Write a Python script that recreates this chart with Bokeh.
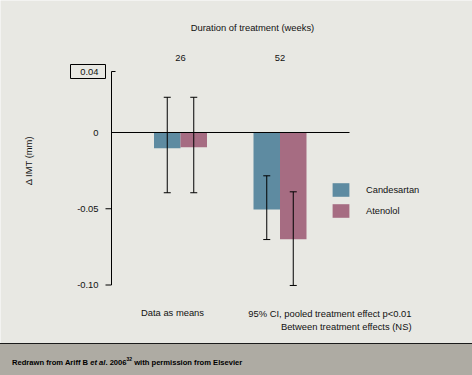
import math
from bokeh.plotting import figure
from bokeh.models import ColumnDataSource, Range1d, Whisker, TeeHead, Legend, LegendItem, Div
from bokeh.layouts import column
from bokeh.core.properties import value
from bokeh.embed import file_html
from bokeh.resources import INLINE

# ---------------- data ----------------
weeks = ["26", "52"]
group_pos = [0, 1]
series = ["Candesartan", "Atenolol"]
candesartan = [-0.0103, -0.0505]
atenolol = [-0.0096, -0.0700]
candesartan_lo = [-0.0395, -0.0702]
candesartan_hi = [0.0231, -0.0284]
atenolol_lo = [-0.0395, -0.1003]
atenolol_hi = [0.0231, -0.0389]
y_ticks = [0.04, 0, -0.05, -0.10]
y_tick_labels = ["0.04", "0", "-0.05", "-0.10"]

# ---------------- layout constants (pixels) ----------------
W, H = 472, 343           # chart area; footer below
FOOT_H = 32
AXIS_PX = 111             # y axis position
G0_PX = 180               # centre of the first group
PX_X = 99.5               # px per group unit
PX_Y = 1525.0             # px per mm
ZERO_PX = 132             # y pixel of 0

def sx(px):
    return (px - G0_PX) / PX_X

def sy(py):
    return (ZERO_PX - py) / PX_Y

BAR_W = 26.5 / PX_X
BG = "#e8e8e3"
C_CAND = "#5e8ba1"
C_ATEN = "#a66c82"
FONT = value("Liberation Sans")
FS = value("9.4px")
TXT = "#111111"

src = ColumnDataSource(dict(
    x=group_pos, weeks=weeks,
    cand=candesartan, aten=atenolol,
    cand_lo=candesartan_lo, cand_hi=candesartan_hi,
    aten_lo=atenolol_lo, aten_hi=atenolol_hi,
    cand_x=[g - BAR_W / 2 for g in group_pos],
    aten_x=[g + BAR_W / 2 for g in group_pos],
))

p = figure(width=W, height=H, output_backend="svg", toolbar_location=None,
           x_range=Range1d(sx(0), sx(W)), y_range=Range1d(sy(H), sy(0)),
           x_axis_location=None, y_axis_location=None,
           min_border_left=0, min_border_right=0,
           min_border_top=0, min_border_bottom=0)
p.background_fill_color = BG
p.border_fill_color = BG
p.outline_line_color = None
p.grid.visible = False

# bars
r_c = p.vbar(x="cand_x", top="cand", bottom=0, width=BAR_W, source=src,
             fill_color=C_CAND, line_color=None)
r_a = p.vbar(x="aten_x", top="aten", bottom=0, width=BAR_W, source=src,
             fill_color=C_ATEN, line_color=None)

# y axis: line, ticks, labels
ax_x = sx(AXIS_PX)
p.segment(x0=ax_x, y0=min(y_ticks), x1=ax_x, y1=max(y_ticks), line_color="black", line_width=1)
tick_len = {0.04: 4, 0: 0, -0.05: -6, -0.10: -6}   # + inward, - outward
tk = [t for t in y_ticks if tick_len[t] != 0]
p.segment(x0=[ax_x] * len(tk), y0=tk, x1=[sx(AXIS_PX + tick_len[t]) for t in tk], y1=tk,
          line_color="black", line_width=1)
p.text(x=sx(98), y=y_ticks, text=y_tick_labels, text_align="right",
       text_baseline="middle", text_font=FONT, text_font_size=FS, text_color=TXT)
# box around the top tick label
p.rect(x=sx(87.5), y=y_ticks[0], width=35, height=14, width_units="screen",
       height_units="screen", fill_color=None, line_color="black", line_width=1)
# y axis title
p.text(x=[sx(28)], y=[sy(160)], text=["\u0394 IMT (mm)"], angle=math.pi / 2,
       text_align="center", text_baseline="middle", text_font=FONT,
       text_font_size=FS, text_color=TXT)

# zero line
p.segment(x0=ax_x, y0=0, x1=sx(349), y1=0, line_color="black", line_width=1)

# error bars
for xcol, lo, hi in [("cand_x", "cand_lo", "cand_hi"), ("aten_x", "aten_lo", "aten_hi")]:
    w = Whisker(source=src, base=xcol, lower=lo, upper=hi, dimension="height",
                line_color="black", line_width=1,
                upper_head=TeeHead(size=7, line_color="black", line_width=1),
                lower_head=TeeHead(size=7, line_color="black", line_width=1))
    w.level = "overlay"
    p.add_layout(w)

# legend (location = bottom-left corner, from frame bottom-left)
legend = Legend(items=[LegendItem(label=series[0], renderers=[r_c]),
                       LegendItem(label=series[1], renderers=[r_a])],
                location=(330, 124), orientation="vertical",
                glyph_width=21, glyph_height=17, label_height=17, label_width=10,
                label_standoff=15, spacing=4, padding=0, margin=0,
                border_line_color=None, background_fill_alpha=0,
                label_text_font="Liberation Sans", label_text_font_size="9.3px",
                label_text_color=TXT)
p.add_layout(legend)

# texts
p.text(x=[sx(252)], y=[sy(27)], text=["Duration of treatment (weeks)"],
       text_align="center", text_baseline="middle", text_font=FONT,
       text_font_size=FS, text_color=TXT)
p.text(x="x", y=sy(57), text="weeks", source=src, text_align="center",
       text_baseline="middle", text_font=FONT, text_font_size=FS, text_color=TXT)
p.text(x=[sx(172)], y=[sy(312)], text=["Data as means"], text_align="center",
       text_baseline="middle", text_font=FONT, text_font_size=FS, text_color=TXT)
p.text(x=[sx(411), sx(411)], y=[sy(313), sy(326)],
       text=["95% CI, pooled treatment effect p<0.01", "Between treatment effects (NS)"],
       text_align="right", text_baseline="middle", text_font=FONT,
       text_font_size=FS, text_color=TXT)

footer = Div(
    text=('<div style="box-sizing:border-box;width:472px;height:32px;background:#aeaba3;'
          'border-top:1px solid #1a1a1a;padding:10px 0 0 12px;font-family:\'Liberation Sans\';'
          'font-size:7.6px;font-weight:bold;line-height:10px;color:#000;white-space:nowrap;">'
          'Redrawn from Ariff B <i>et al</i>. 2006<sup style="font-size:5px">32</sup> '
          'with permission from Elsevier</div>'),
    width=W, height=FOOT_H, margin=0)

layout = column(p, footer, spacing=0)
open("out.html", "w").write(file_html(layout, INLINE))
